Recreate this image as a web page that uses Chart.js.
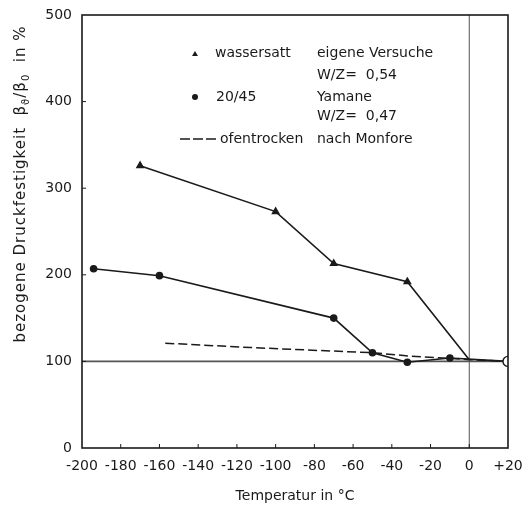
<!DOCTYPE html>
<html lang="de">
  <head>
    <meta charset="UTF-8" />
    <title>Bezogene Druckfestigkeit</title>
    <script src="https://cdn.jsdelivr.net/npm/chart.js"></script>
    <style>
      html,
      body {
        margin: 0;
        padding: 0;
        background: #ffffff;
      }
      #wrap {
        width: 524px;
        height: 509px;
      }
    </style>
  </head>
  <body>
    <div id="wrap"><canvas id="chart" width="524" height="509"></canvas></div>

    <script>
      // wassersatt, eigene Versuche W/Z = 0,54 (Dreiecke)
      const wassersattT = [-170, -100, -70, -32, 0];
      const wassersattB = [326, 273, 213, 192, 102];

      // 20/45, Yamane W/Z = 0,47 (Punkte)
      const yamaneT = [-194, -160, -70, -50, -32, -10, 20];
      const yamaneB = [207, 199, 150, 110, 99, 104, 100];

      // ofentrocken nach Monfore (gestrichelt)
      const monforeT = [-157, -113, -50, -30, 0, 20];
      const monforeB = [121, 116, 110, 106, 102, 100];

      // Bezugspunkt
      const refT = [20];
      const refB = [100];

      const xTicks = [-200, -180, -160, -140, -120, -100, -80, -60, -40, -20, 0, 20];
      const yTicks = [0, 100, 200, 300, 400, 500];

      const FONT = "DejaVu Sans";
      const INK = "#1a1a1a";

      const pts = (xs, ys) => xs.map((x, i) => ({ x: x, y: ys[i] }));

      const rahmen = {
        id: "rahmen",
        afterDatasetsDraw(chart) {
          const { ctx, chartArea: a, scales } = chart;
          ctx.save();
          ctx.strokeStyle = INK;
          ctx.lineWidth = 1.6;
          ctx.strokeRect(a.left, a.top, a.right - a.left, a.bottom - a.top);

          // kleine Striche nach innen
          ctx.lineWidth = 1;
          xTicks.slice(1, -1).forEach((v) => {
            const px = scales.x.getPixelForValue(v);
            ctx.beginPath();
            ctx.moveTo(px, a.bottom);
            ctx.lineTo(px, a.bottom - 4);
            ctx.stroke();
          });
          yTicks.slice(1, -1).forEach((v) => {
            const py = scales.y.getPixelForValue(v);
            ctx.beginPath();
            ctx.moveTo(a.left, py);
            ctx.lineTo(a.left + 4, py);
            ctx.stroke();
          });
          ctx.restore();
        },
        afterDraw(chart) {
          const ctx = chart.ctx;
          ctx.save();
          ctx.fillStyle = INK;
          ctx.strokeStyle = INK;
          ctx.textBaseline = "middle";
          ctx.font = "14px " + FONT;

          // Legende
          ctx.beginPath();
          ctx.moveTo(195, 51);
          ctx.lineTo(198, 56);
          ctx.lineTo(192, 56);
          ctx.closePath();
          ctx.fill();
          ctx.fillText("wassersatt", 215, 53);
          ctx.fillText("eigene Versuche", 317, 53);
          ctx.fillText("W/Z=  0,54", 317, 75);

          ctx.beginPath();
          ctx.arc(195, 97, 3, 0, Math.PI * 2);
          ctx.fill();
          ctx.fillText("20/45", 216, 97);
          ctx.fillText("Yamane", 317, 97);
          ctx.fillText("W/Z=  0,47", 317, 116);

          ctx.lineWidth = 1.5;
          ctx.setLineDash([10, 3]);
          ctx.beginPath();
          ctx.moveTo(180, 139);
          ctx.lineTo(218, 139);
          ctx.stroke();
          ctx.setLineDash([]);
          ctx.fillText("ofentrocken", 220, 139);
          ctx.fillText("nach Monfore", 317, 139);

          // y-Achsentitel mit Indizes
          const teile = [
            ["bezogene Druckfestigkeit  β", false],
            ["ϑ", true],
            ["/β", false],
            ["0", true],
            ["  in %", false],
          ];
          const gross = "15px " + FONT;
          const klein = "10px " + FONT;
          ctx.letterSpacing = "1px";
          let breite = 0;
          teile.forEach(([t, sub]) => {
            ctx.font = sub ? klein : gross;
            breite += ctx.measureText(t).width;
          });
          ctx.translate(21, 184);
          ctx.rotate(-Math.PI / 2);
          let x = -breite / 2;
          teile.forEach(([t, sub]) => {
            ctx.font = sub ? klein : gross;
            ctx.fillText(t, x, sub ? 5 : 0);
            x += ctx.measureText(t).width;
          });
          ctx.restore();
        },
      };

      new Chart(document.getElementById("chart"), {
        type: "scatter",
        data: {
          datasets: [
            {
              label: "Bezug",
              data: pts(refT, refB),
              pointRadius: 5,
              pointBackgroundColor: "#ffffff",
              pointBorderColor: INK,
              pointBorderWidth: 1.4,
              order: 0,
            },
            {
              label: "wassersatt",
              data: pts(wassersattT, wassersattB),
              showLine: true,
              borderColor: INK,
              borderWidth: 1.6,
              pointStyle: "triangle",
              pointRadius: [3.5, 3.5, 3.5, 3.5, 0],
              pointBackgroundColor: INK,
              pointBorderColor: INK,
              order: 1,
            },
            {
              label: "20/45",
              data: pts(yamaneT, yamaneB),
              showLine: true,
              borderColor: INK,
              borderWidth: 1.6,
              pointRadius: [3, 3, 3, 3, 3, 3, 0],
              pointBackgroundColor: INK,
              pointBorderColor: INK,
              order: 1,
            },
            {
              label: "ofentrocken",
              data: pts(monforeT, monforeB),
              showLine: true,
              borderColor: INK,
              borderWidth: 1.5,
              borderDash: [9, 4],
              pointRadius: 0,
              order: 1,
            },
            {
              label: "100 %",
              data: pts([-200, 20], [100, 100]),
              showLine: true,
              borderColor: "#555555",
              borderWidth: 1.6,
              pointRadius: 0,
              order: 2,
            },
            {
              label: "0 °C",
              data: pts([0, 0], [0, 500]),
              showLine: true,
              borderColor: "#555555",
              borderWidth: 1,
              pointRadius: 0,
              order: 2,
            },
          ],
        },
        options: {
          responsive: false,
          animation: false,
          layout: { padding: { top: 15, right: 16, left: 0, bottom: 0 } },
          plugins: {
            legend: { display: false },
            tooltip: { enabled: false },
          },
          scales: {
            x: {
              type: "linear",
              min: -200,
              max: 20,
              afterBuildTicks: (s) => {
                s.ticks = xTicks.map((v) => ({ value: v }));
              },
              afterFit: (s) => {
                s.height = 61;
                s.paddingLeft = 0;
                s.paddingRight = 0;
              },
              grid: { display: false, drawTicks: false },
              border: { display: false },
              ticks: {
                padding: 10,
                color: INK,
                font: { family: FONT, size: 14 },
                maxRotation: 0,
                autoSkip: false,
                callback: (v) => (v > 0 ? "+" + v : v),
              },
              title: {
                display: true,
                text: "Temperatur in °C",
                color: INK,
                font: { family: FONT, size: 14 },
                padding: { top: 14 },
              },
            },
            y: {
              type: "linear",
              min: 0,
              max: 500,
              afterBuildTicks: (s) => {
                s.ticks = yTicks.map((v) => ({ value: v }));
              },
              afterFit: (s) => {
                s.width = 82;
                s.paddingTop = 0;
                s.paddingBottom = 0;
              },
              grid: { display: false, drawTicks: false },
              border: { display: false },
              ticks: {
                padding: 10,
                color: INK,
                font: { family: FONT, size: 14 },
              },
            },
          },
        },
        plugins: [rahmen],
      });
    </script>
  </body>
</html>
